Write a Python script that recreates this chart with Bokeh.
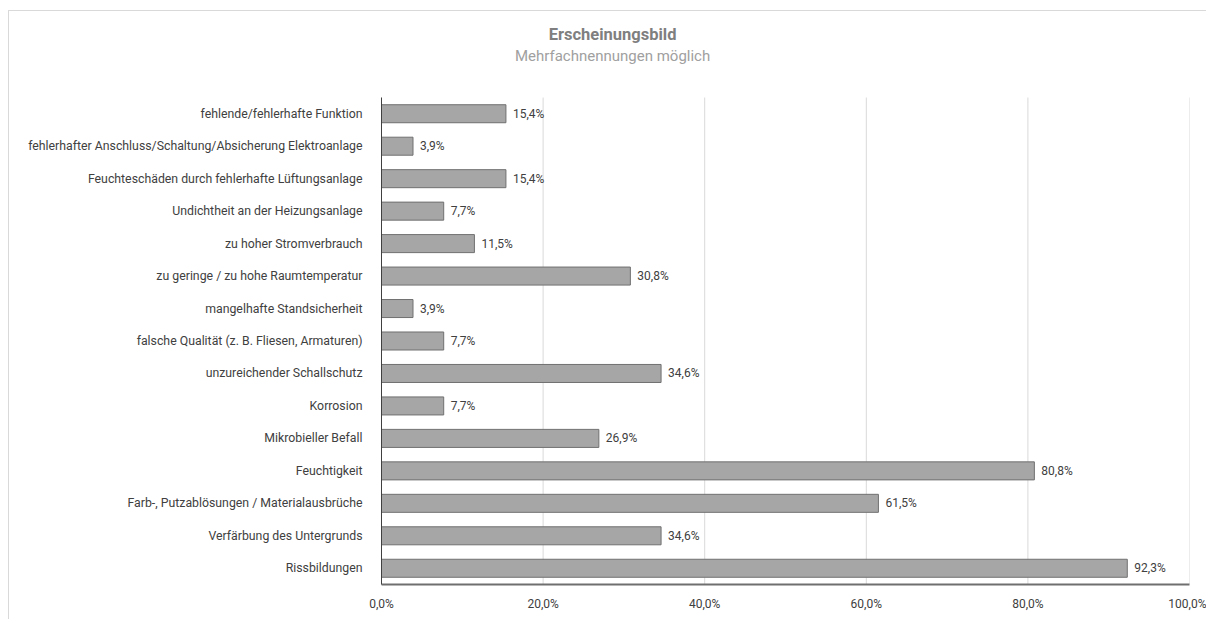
from bokeh.plotting import figure
from bokeh.models import Range1d, ColumnDataSource, Label, LabelSet, FixedTicker
from bokeh.core.properties import value
from bokeh.embed import file_html
from bokeh.resources import INLINE

categories = [
    "fehlende/fehlerhafte Funktion",
    "fehlerhafter Anschluss/Schaltung/Absicherung Elektroanlage",
    "Feuchteschäden durch fehlerhafte Lüftungsanlage",
    "Undichtheit an der Heizungsanlage",
    "zu hoher Stromverbrauch",
    "zu geringe / zu hohe Raumtemperatur",
    "mangelhafte Standsicherheit",
    "falsche Qualität (z. B. Fliesen, Armaturen)",
    "unzureichender Schallschutz",
    "Korrosion",
    "Mikrobieller Befall",
    "Feuchtigkeit",
    "Farb-, Putzablösungen / Materialausbrüche",
    "Verfärbung des Untergrunds",
    "Rissbildungen",
]
values = [15.4, 3.9, 15.4, 7.7, 11.5, 30.8, 3.9, 7.7, 34.6, 7.7, 26.9, 80.8, 61.5, 34.6, 92.3]
tick_values = [0, 20, 40, 60, 80, 100]
tick_labels = ["0,0%", "20,0%", "40,0%", "60,0%", "80,0%", "100,0%"]
title_text = "Erscheinungsbild"
subtitle_text = "Mehrfachnennungen möglich"

FONT = "Roboto"
n = len(categories)
ypos = [n - 1 - i for i in range(n)]          # first category on top
value_labels = [("%.1f%%" % v).replace(".", ",") for v in values]
src = ColumnDataSource(dict(y=ypos, val=values, lab=value_labels))

# layout (pixels): frame spans the whole height above the x axis so titles are inside
H, BOTTOM, TOP_GAP = 609, 36, 86
frame_h = H - BOTTOM
px_per_unit = (frame_h - TOP_GAP) / n
y_top = (n - 0.5) + TOP_GAP / px_per_unit


def y_at(canvas_px):
    return (n - 0.5) + (TOP_GAP - canvas_px) / px_per_unit


p = figure(
    width=1198, height=H,
    y_range=Range1d(-0.5, y_top), x_range=Range1d(0, 100),
    output_backend="svg", toolbar_location=None,
    min_border_left=372, min_border_right=18, min_border_top=0, min_border_bottom=BOTTOM,
    outline_line_color=None,
)
p.margin = (10, 0, 0, 8)
p.styles = {"border-top": "1px solid #d9d9d9", "border-left": "1px solid #d9d9d9"}

# vertical gridlines limited to the bar area
p.segment(x0=tick_values, x1=tick_values, y0=-0.5, y1=n - 0.5,
          line_color="#d9d9d9", line_width=1)

p.hbar(y="y", right="val", left=0, height=0.555, source=src,
       fill_color="#a6a6a6", line_color="#707070", line_width=1)

labels = LabelSet(x="val", y="y", text="lab", source=src, x_offset=7, y_offset=0,
                  text_font=value(FONT), text_font_size="12px", text_color="#404040",
                  text_baseline="middle")
p.add_layout(labels)

title_x = 28.6  # centre of the whole chart in data units
p.add_layout(Label(x=title_x, y=y_at(23), text=title_text, text_align="center",
                   text_baseline="middle", text_font=FONT, text_font_size="16.5px",
                   text_font_style="bold", text_color="#7f7f7f"))
p.add_layout(Label(x=title_x, y=y_at(44), text=subtitle_text, text_align="center",
                   text_baseline="middle", text_font=FONT, text_font_size="15px",
                   text_color="#a0a0a0"))

p.xaxis.ticker = FixedTicker(ticks=tick_values)
p.xaxis.major_label_overrides = {t: l for t, l in zip(tick_values, tick_labels)}
p.xaxis.major_tick_line_color = None
p.xaxis.minor_tick_line_color = None
p.xaxis.axis_line_color = "#6f6f6f"
p.xaxis.axis_line_width = 2
p.xaxis.major_label_text_font = FONT
p.xaxis.major_label_text_font_size = "12px"
p.xaxis.major_label_text_color = "#404040"
p.xaxis.major_label_standoff = 6

p.yaxis.ticker = FixedTicker(ticks=ypos)
p.yaxis.major_label_overrides = {y: c for y, c in zip(ypos, categories)}
p.yaxis.bounds = (-0.5, n - 0.5)
p.yaxis.major_tick_line_color = None
p.yaxis.minor_tick_line_color = None
p.yaxis.axis_line_color = "#404040"
p.yaxis.axis_line_width = 1
p.yaxis.major_label_text_font = FONT
p.yaxis.major_label_text_font_size = "12.3px"
p.yaxis.major_label_text_color = "#404040"
p.yaxis.major_label_standoff = 13

p.grid.grid_line_color = None

open("out.html", "w").write(file_html(p, INLINE))
